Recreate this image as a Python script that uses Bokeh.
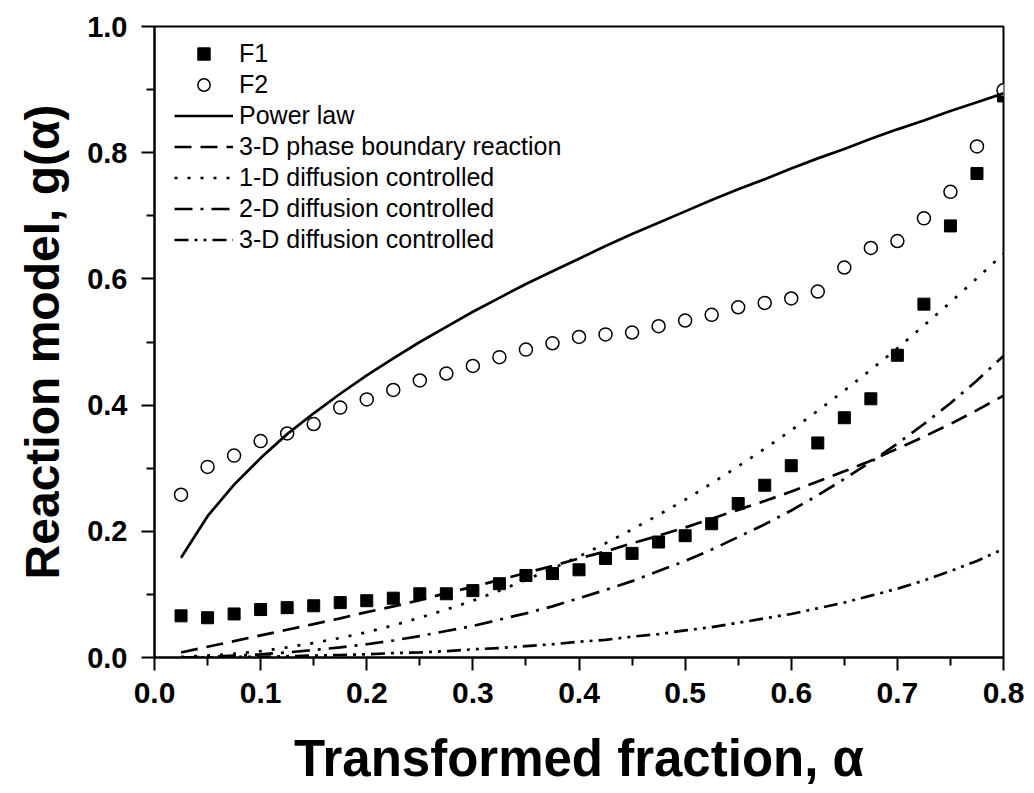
from bokeh.plotting import figure
from bokeh.models import Legend, LegendItem, FixedTicker, NumeralTickFormatter, ColumnDataSource
from bokeh.embed import file_html
from bokeh.resources import INLINE

# ---- data ----
alpha = [0.025, 0.05, 0.075, 0.1, 0.125, 0.15, 0.175, 0.2, 0.225, 0.25, 0.275, 0.3,
         0.325, 0.35, 0.375, 0.4, 0.425, 0.45, 0.475, 0.5, 0.525, 0.55, 0.575, 0.6,
         0.625, 0.65, 0.675, 0.7, 0.725, 0.75, 0.775, 0.8]

f1 = [0.066, 0.063, 0.069, 0.076, 0.079, 0.082, 0.087, 0.090, 0.094, 0.101, 0.101, 0.106,
      0.117, 0.130, 0.133, 0.139, 0.157, 0.165, 0.183, 0.193, 0.212, 0.244, 0.273, 0.304,
      0.340, 0.380, 0.410, 0.479, 0.560, 0.684, 0.767, 0.890]

f2 = [0.258, 0.302, 0.320, 0.343, 0.355, 0.370, 0.396, 0.409, 0.424, 0.439, 0.450, 0.462,
      0.476, 0.488, 0.498, 0.508, 0.512, 0.515, 0.525, 0.534, 0.543, 0.555, 0.562, 0.569,
      0.580, 0.618, 0.649, 0.660, 0.696, 0.738, 0.810, 0.899]

power_law = [0.158, 0.224, 0.274, 0.316, 0.354, 0.387, 0.418, 0.447, 0.474, 0.500, 0.524, 0.548,
             0.570, 0.592, 0.612, 0.632, 0.652, 0.671, 0.689, 0.707, 0.725, 0.742, 0.758, 0.775,
             0.791, 0.806, 0.822, 0.837, 0.851, 0.866, 0.880, 0.894]

phase_3d = [0.008, 0.017, 0.026, 0.035, 0.044, 0.053, 0.062, 0.072, 0.081, 0.091, 0.102, 0.112,
            0.123, 0.134, 0.145, 0.157, 0.168, 0.181, 0.193, 0.206, 0.220, 0.234, 0.248, 0.263,
            0.279, 0.295, 0.312, 0.331, 0.350, 0.370, 0.392, 0.415]

diff_1d = [0.001, 0.003, 0.006, 0.010, 0.016, 0.023, 0.031, 0.040, 0.051, 0.063, 0.076, 0.090,
           0.106, 0.123, 0.141, 0.160, 0.181, 0.203, 0.226, 0.250, 0.276, 0.303, 0.331, 0.360,
           0.391, 0.423, 0.456, 0.490, 0.526, 0.563, 0.601, 0.640]

diff_2d = [0.000, 0.001, 0.003, 0.005, 0.008, 0.012, 0.016, 0.021, 0.027, 0.034, 0.042, 0.050,
           0.060, 0.070, 0.081, 0.094, 0.107, 0.121, 0.137, 0.153, 0.171, 0.191, 0.211, 0.233,
           0.257, 0.283, 0.310, 0.339, 0.370, 0.403, 0.439, 0.478]

diff_3d = [0.000, 0.000, 0.001, 0.001, 0.002, 0.003, 0.004, 0.005, 0.007, 0.008, 0.010, 0.013,
           0.015, 0.018, 0.021, 0.025, 0.028, 0.033, 0.037, 0.043, 0.048, 0.055, 0.062, 0.069,
           0.078, 0.087, 0.098, 0.109, 0.122, 0.137, 0.153, 0.172]

x_ticks = [0.0, 0.1, 0.2, 0.3, 0.4, 0.5, 0.6, 0.7, 0.8]
x_minor = [0.05, 0.15, 0.25, 0.35, 0.45, 0.55, 0.65, 0.75]
y_ticks = [0.0, 0.2, 0.4, 0.6, 0.8, 1.0]
y_minor = [0.1, 0.3, 0.5, 0.7, 0.9]

src = ColumnDataSource(dict(a=alpha, f1=f1, f2=f2, pl=power_law, p3=phase_3d,
                            d1=diff_1d, d2=diff_2d, d3=diff_3d))

FONT = "Liberation Sans"

p = figure(width=1026, height=791, x_range=(0, 0.8), y_range=(0, 1.0),
           output_backend="svg", toolbar_location=None,
           min_border_left=154, min_border_right=23, min_border_top=26, min_border_bottom=134)

p.xgrid.grid_line_color = None
p.ygrid.grid_line_color = None
p.outline_line_color = "black"
p.outline_line_width = 2
p.outline_line_alpha = 1
p.background_fill_color = "white"
p.border_fill_color = "white"

lw = 2.7
r_f1 = p.scatter("a", "f1", source=src, marker="square", size=12, fill_color="black", line_color="black")
r_f2 = p.scatter("a", "f2", source=src, marker="circle", size=13, fill_color="white",
                 line_color="black", line_width=1.5)
r_pl = p.line("a", "pl", source=src, line_color="black", line_width=lw)
r_p3 = p.line("a", "p3", source=src, line_color="black", line_width=lw, line_dash="17 9")
r_d1 = p.line("a", "d1", source=src, line_color="black", line_width=lw, line_dash="3 10")
r_d2 = p.line("a", "d2", source=src, line_color="black", line_width=lw, line_dash="18 8 3 8")
r_d3 = p.line("a", "d3", source=src, line_color="black", line_width=lw, line_dash="14 6 3 6 3 6")

for ax in (p.xaxis[0], p.yaxis[0]):
    ax.axis_line_width = 2
    ax.major_tick_line_width = 2
    ax.minor_tick_line_width = 2
    ax.major_tick_in = 0
    ax.minor_tick_in = 0
    ax.major_tick_out = 13
    ax.minor_tick_out = 8
    ax.major_label_text_font = FONT
    ax.major_label_text_font_style = "bold"
    ax.major_label_text_color = "black"
    ax.axis_label_text_font = FONT
    ax.axis_label_text_font_style = "bold"
    ax.axis_label_text_color = "black"
    ax.formatter = NumeralTickFormatter(format="0.0")

p.xaxis.ticker = FixedTicker(ticks=x_ticks, minor_ticks=x_minor)
p.yaxis.ticker = FixedTicker(ticks=y_ticks, minor_ticks=y_minor)
p.xaxis.major_label_text_font_size = "30px"
p.yaxis.major_label_text_font_size = "29px"
p.xaxis.major_label_standoff = 12
p.yaxis.major_label_standoff = 14
p.xaxis.axis_label_standoff = 24
p.yaxis.axis_label_standoff = 15
p.xaxis.axis_label_text_font_size = "51px"
p.yaxis.axis_label_text_font_size = "48px"
p.xaxis.axis_label = "Transformed fraction, α"
p.yaxis.axis_label = "Reaction model, g(α)"

legend = Legend(items=[
    LegendItem(label="F1", renderers=[r_f1]),
    LegendItem(label="F2", renderers=[r_f2]),
    LegendItem(label="Power law", renderers=[r_pl]),
    LegendItem(label="3-D phase boundary reaction", renderers=[r_p3]),
    LegendItem(label="1-D diffusion controlled", renderers=[r_d1]),
    LegendItem(label="2-D diffusion controlled", renderers=[r_d2]),
    LegendItem(label="3-D diffusion controlled", renderers=[r_d3]),
], location=(20, 402))
legend.border_line_alpha = 0
legend.background_fill_alpha = 0
legend.padding = 0
legend.margin = 0
legend.spacing = 0
legend.glyph_width = 59
legend.glyph_height = 31
legend.label_height = 31
legend.label_standoff = 6
legend.label_text_font = FONT
legend.label_text_font_size = "25px"
legend.label_text_color = "black"
p.add_layout(legend)

open("out.html", "w").write(file_html(p, INLINE))
